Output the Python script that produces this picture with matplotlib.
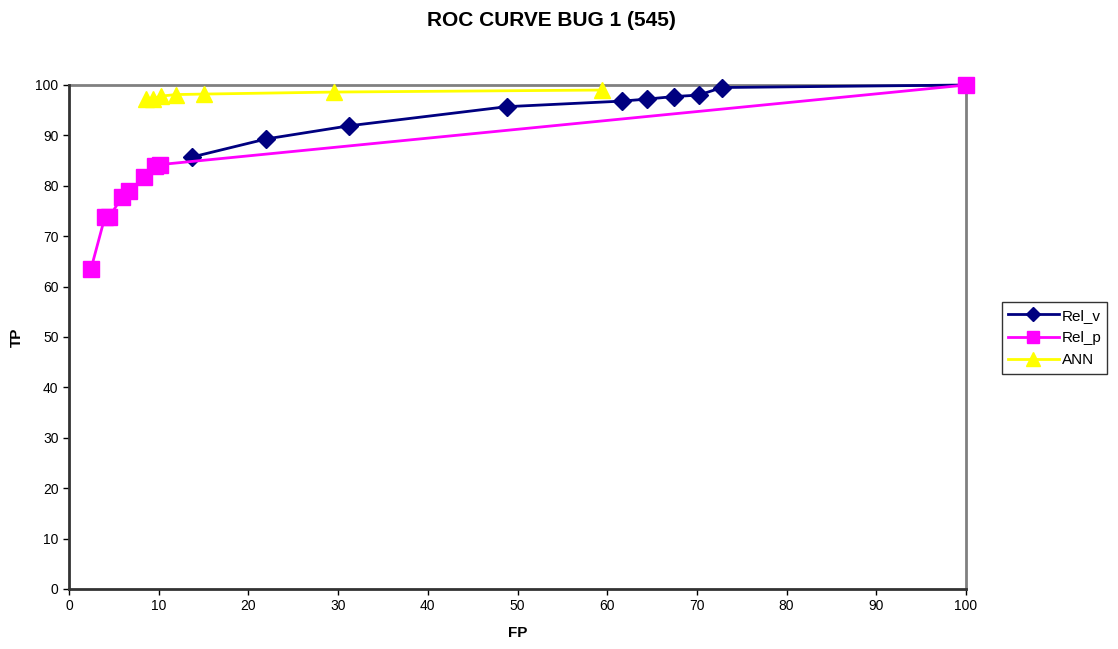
import matplotlib
matplotlib.use("Agg")
import matplotlib.pyplot as plt

plt.rcParams['font.family'] = ['Liberation Sans', 'DejaVu Sans']

# Rel_v curve (navy diamonds)
rel_v_fp = [13.7, 22.0, 31.2, 48.8, 61.6, 64.4, 67.4, 70.2, 72.8, 100.0]
rel_v_tp = [85.7, 89.3, 91.9, 95.7, 96.8, 97.2, 97.7, 98.0, 99.5, 100.0]

# Rel_p curve (magenta squares)
rel_p_fp = [2.45, 4.0, 4.5, 5.9, 6.7, 8.4, 9.6, 10.1, 100.0]
rel_p_tp = [63.5, 73.8, 73.8, 77.8, 79.0, 81.7, 84.0, 84.2, 100.0]

# ANN curve (yellow triangles)
ann_fp = [8.6, 9.4, 10.3, 11.9, 15.05, 29.5, 59.4]
ann_tp = [97.2, 97.3, 97.8, 98.1, 98.2, 98.6, 99.0]

fig = plt.figure(figsize=(11.18, 6.49), dpi=100)
ax = fig.add_axes([69 / 1118, 1 - 589 / 649, (966 - 69) / 1118, (589 - 85) / 649])

# series order as in the spreadsheet: later ones drawn on top
# (last Rel_v diamond sits under the Rel_p square at 100,100)
ax.plot(rel_v_fp, rel_v_tp, color='#000080', lw=2, marker='D', ms=9,
        markevery=slice(0, len(rel_v_fp) - 1),
        label='Rel_v', zorder=3, clip_on=False)
ax.plot(rel_p_fp, rel_p_tp, color='#FF00FF', lw=2, marker='s', ms=11,
        label='Rel_p', zorder=4, clip_on=False)
ax.plot(ann_fp, ann_tp, color='#FFFF00', lw=2, marker='^', ms=12,
        label='ANN', zorder=5, clip_on=False)

ax.set_xlim(0, 100)
ax.set_ylim(0, 100)
ax.set_xticks(range(0, 101, 10))
ax.set_yticks(range(0, 101, 10))
ax.tick_params(labelsize=10, length=4, direction='out', width=1)

for side in ['top', 'right']:
    ax.spines[side].set_color('#808080')
    ax.spines[side].set_linewidth(2)
    ax.spines[side].set_zorder(2)
for side in ['left', 'bottom']:
    ax.spines[side].set_color('#333333')
    ax.spines[side].set_linewidth(2)

ax.set_xlabel('FP', fontsize=11, fontweight='bold', labelpad=9)
ax.set_ylabel('TP', fontsize=11, fontweight='bold', labelpad=8)
fig.text(551 / 1118, 1 - 20 / 649, 'ROC CURVE BUG 1 (545)', fontsize=15,
         fontweight='bold', ha='center', va='center')

leg = fig.legend(loc='center left', bbox_to_anchor=(1002 / 1118, 1 - 338 / 649),
                 fontsize=11, frameon=True, fancybox=False, edgecolor='black',
                 borderpad=0.4, labelspacing=0.55, handlelength=3.3,
                 handletextpad=0.2, markerscale=0.8, borderaxespad=0)
leg.get_frame().set_linewidth(1)

fig.savefig('out.png', dpi=100)
